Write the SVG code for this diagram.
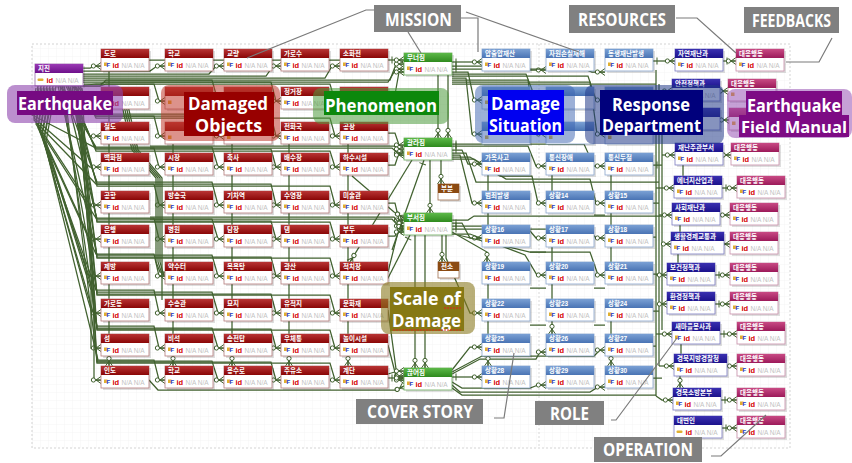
<svg xmlns="http://www.w3.org/2000/svg" xmlns:xlink="http://www.w3.org/1999/xlink" width="852" height="463" viewBox="0 0 852 463">
<style>
.c{fill:none;stroke:#41612f;stroke-width:1.25}
.e{marker-end:url(#cf)}
.s{marker-start:url(#br)}
.sh{fill:#000;opacity:.13}
.bd{fill:#fff;stroke-width:.8}
.hn{font:bold 6.5px "Liberation Sans","Noto Sans CJK KR",sans-serif;fill:#fff}
.idt{font:bold 7.5px "Liberation Sans",sans-serif;fill:#d40000}
.na{font:6.5px "Liberation Sans",sans-serif;fill:#c2c2c2}
.fi{font:bold 6px "Liberation Sans",sans-serif;fill:#1a3acc}
.r .hd{fill:url(#gr)} .r .bd{stroke:#b47c7c}
.g .hd{fill:url(#gg)} .g .bd{stroke:#6aaa5a}
.b .hd{fill:url(#gb)} .b .bd{stroke:#8aa6cc}
.i .hd{fill:url(#gi)} .i .bd{stroke:#7c7cc0}
.m .hd{fill:url(#gm)} .m .bd{stroke:#c890aa}
.p .hd{fill:url(#gp)} .p .bd{stroke:#9a6aaa}
.w .hd{fill:#8b4a12} .w .bd{stroke:#a07050}
.ov{font:bold 18px "Open Sans","Liberation Sans",sans-serif;fill:#fff}
.gl{fill:#808080}
.gt{font:bold 17px "Open Sans","Liberation Sans",sans-serif;fill:#fff}
.ld{fill:none;stroke:#7a7a7a;stroke-width:1.2}
</style>
<defs>
<pattern id="grid" width="8" height="8" patternUnits="userSpaceOnUse"><path d="M8,0H0V8" fill="none" stroke="#ececec" stroke-width=".6"/></pattern>
<linearGradient id="gr" x1="0" y1="0" x2="0" y2="1"><stop offset="0" stop-color="#b83434"/><stop offset="1" stop-color="#8a0606"/></linearGradient>
<linearGradient id="gg" x1="0" y1="0" x2="0" y2="1"><stop offset="0" stop-color="#5cb848"/><stop offset="1" stop-color="#2f8a1e"/></linearGradient>
<linearGradient id="gb" x1="0" y1="0" x2="0" y2="1"><stop offset="0" stop-color="#7aa0d4"/><stop offset="1" stop-color="#4a74b4"/></linearGradient>
<linearGradient id="gi" x1="0" y1="0" x2="0" y2="1"><stop offset="0" stop-color="#3a30b0"/><stop offset="1" stop-color="#1c128c"/></linearGradient>
<linearGradient id="gm" x1="0" y1="0" x2="0" y2="1"><stop offset="0" stop-color="#c84a84"/><stop offset="1" stop-color="#9c1a5a"/></linearGradient>
<linearGradient id="gp" x1="0" y1="0" x2="0" y2="1"><stop offset="0" stop-color="#9a3ab4"/><stop offset="1" stop-color="#6e108a"/></linearGradient>
<marker id="cf" markerUnits="userSpaceOnUse" viewBox="-11 -5 12 10" refX="0" refY="0" markerWidth="12" markerHeight="10" orient="auto" overflow="visible">
<path d="M-5,0L0,-3.5M-5,0L0,0M-5,0L0,3.5" fill="none" stroke="#41612f" stroke-width="1"/>
<circle cx="-7.6" cy="0" r="2.1" fill="#fff" stroke="#41612f" stroke-width="1"/>
</marker>
<marker id="br" markerUnits="userSpaceOnUse" viewBox="-1 -5 10 10" refX="0" refY="0" markerWidth="10" markerHeight="10" orient="auto" overflow="visible">
<path d="M4,-3.5V3.5" fill="none" stroke="#41612f" stroke-width="1"/>
</marker>
<g id="bf"><rect x="3" y="13.5" width="3.5" height="3.5" fill="#e0b030"/><text class="fi" x="5.5" y="17.5">F</text><text class="idt" x="11.5" y="19">id</text><text class="na" x="20.5" y="19">N/A N/A</text></g>
<g id="bk"><rect x="2.5" y="14.5" width="6" height="2.5" rx="1" fill="#e0b030"/><text class="idt" x="11.5" y="19">id</text><text class="na" x="20.5" y="19">N/A N/A</text></g>
<g id="bh"><rect x="3" y="13.5" width="3.5" height="3.5" fill="#e0b030"/></g>
</defs>

<rect width="852" height="463" fill="#fff"/>
<rect x="32" y="44" width="758" height="404" fill="url(#grid)" stroke="#c8c8c8" stroke-width=".8" stroke-dasharray="2,2"/>
<path d="M539,44V448" stroke="#cfcfcf" stroke-width=".8" stroke-dasharray="2,2"/>

<g id="connectors">
<path class="c e" d="M83,68H90L95,66H101"/>
<path class="c e" d="M83,71H150L157,66H165"/>
<path class="c e" d="M83,74H209L216,66H224"/>
<path class="c e" d="M83,76H266L273,66H281"/>
<path class="c e" d="M83,78H325L332,66H340"/>
<path class="c e" d="M83,80H390L396,64H404"/>
<path class="c e" d="M83,82H388L396,69H404"/>
<path class="c" d="M149,60H165M213,60H224M272,60H281M329,60H340"/>
<path class="c s e" d="M388,60H404"/>
<path class="c e" d="M72,86L88,101H101"/>
<path class="c e" d="M68,86L90,136H101"/>
<path class="c e" d="M38,86L34,118L90,167H101"/>
<path class="c e" d="M41,86L36,122L90,205H101"/>
<path class="c e" d="M44,86L38,126L90,239H101"/>
<path class="c e" d="M47,86L40,130L89,276H101"/>
<path class="c e" d="M50,86L42,134L88,300L92,313H101"/>
<path class="c e" d="M53,86L44,138L91,290V348H101"/>
<path class="c e" d="M56,86L46,142L94,295V380H101"/>
<path class="c e" d="M78,86L96,84H154L159,101H165"/>
<path class="c e" d="M75,86L96,116H154L159,136H165"/>
<path class="c e" d="M36,88L32,115L96,148H154L159,167H165"/>
<path class="c e" d="M39,88L34,120L96,184H154L159,205H165"/>
<path class="c e" d="M42,88L36,124L96,218H154L159,239H165"/>
<path class="c e" d="M45,88L38,128L96,254H154L159,276H165"/>
<path class="c e" d="M48,88L40,132L96,290H154L159,313H165"/>
<path class="c e" d="M51,88L42,136L97,326H154L159,348H165"/>
<path class="c e" d="M54,88L44,140L98,360H154L159,380H165"/>
<path class="c e" d="M80,86H100L106,80H212L218,101H224"/>
<path class="c e" d="M74,86L96,114H212L218,136H224"/>
<path class="c e" d="M60,86L96,147H212L218,167H224"/>
<path class="c e" d="M62,86L97,182H212L218,205H224"/>
<path class="c e" d="M64,86L97,219H212L218,239H224"/>
<path class="c e" d="M58,86L97,255H212L218,276H224"/>
<path class="c e" d="M60,86L97,292H212L218,313H224"/>
<path class="c e" d="M62,86L97,328H212L218,348H224"/>
<path class="c e" d="M64,86L97,361H212L218,380H224"/>
<path class="c e" d="M84,84H100L106,82H271L276,101H281"/>
<path class="c e" d="M78,86L96,116H271L276,136H281"/>
<path class="c e" d="M66,86L96,149H271L276,167H281"/>
<path class="c e" d="M68,86L97,184H271L276,205H281"/>
<path class="c e" d="M70,86L97,221H271L276,239H281"/>
<path class="c e" d="M72,86L97,257H271L276,276H281"/>
<path class="c e" d="M74,86L97,294H271L276,313H281"/>
<path class="c e" d="M76,86L97,329H271L276,348H281"/>
<path class="c e" d="M78,86L97,362H271L276,380H281"/>
<path class="c e" d="M83,86H100L106,84H330L335,101H340"/>
<path class="c e" d="M80,86L96,118H330L335,136H340"/>
<path class="c e" d="M70,88L96,151H330L335,167H340"/>
<path class="c e" d="M72,88L97,186H330L335,205H340"/>
<path class="c e" d="M74,88L97,222H330L335,239H340"/>
<path class="c e" d="M76,88L97,258H330L335,276H340"/>
<path class="c e" d="M78,88L97,295H330L335,313H340"/>
<path class="c e" d="M80,88L97,330H330L335,348H340"/>
<path class="c e" d="M82,88L97,363H330L335,380H340"/>
<path class="c" d="M118,88L132,150L156,178V262L160,272H165"/>
<path class="c" d="M120,88L134,150L158,178V262L162,274H165"/>
<path class="c" d="M122,88L136,150L160,178V262L164,276H165"/>
<path class="c" d="M124,88L138,150L162,178V300"/>
<path class="c e" d="M109,71V87M109,109V122M109,144V153M109,175V191M109,213V225M109,247V262M109,284V299M109,321V334M109,356V366"/>
<path class="c e" d="M173,144V153M173,175V191M173,213V225M173,247V262M173,284V299M173,321V334M173,356V366"/>
<path class="c e" d="M232,144V153M232,175V191M232,213V225M232,247V262M232,284V299M232,321V334M232,356V366"/>
<path class="c e" d="M289,144V153M289,175V191M289,213V225M289,247V262M289,284V299M289,321V334M289,356V366"/>
<path class="c e" d="M348,144V153M348,175V191M348,213V225M348,247V262M348,284V299M348,321V334M348,356V366"/>
<path class="c e" d="M388,100H394L399,72H404"/>
<path class="c e" d="M388,133H395L399,145H404"/>
<path class="c e" d="M388,165H395L399,153H404"/>
<path class="c e" d="M388,203H395L399,220H404"/>
<path class="c e" d="M388,236H395L399,226H404"/>
<path class="c e" d="M388,272L398,232H404"/>
<path class="c e" d="M388,310L397,376H404"/>
<path class="c e" d="M388,345L397,380H404"/>
<path class="c s e" d="M388,378H404"/>
<path class="c e" d="M150,146H394L400,149H404"/>
<path class="c e" d="M150,148H392L400,155H404"/>
<path class="c e" d="M150,217H394L404,229"/>
<path class="c e" d="M150,219H392L404,232"/>
<path class="c e" d="M388,374L398,371H404"/>
<path class="c e" d="M149,380L158,390H396L404,386"/>
<path class="c e" d="M352,176L394,212L404,218"/>
<path class="c s" d="M424,160L392,250"/>
<path class="c e" d="M412,160L350,262"/>
<path class="c e" d="M415,235V368"/>
<path class="c e" d="M425,235V368"/>
<path class="c s" d="M410,235L386,282"/>
<path class="c e" d="M446,235V258L470,313H482"/>
<path class="c e" d="M438,75V138"/>
<path class="c e" d="M448,75V138"/>
<path class="c e" d="M441,160V184"/>
<path class="c e" d="M430,160V213"/>
<path class="c e" d="M442,235V262"/>
<path class="c s e" d="M452,62H482"/>
<path class="c s e" d="M452,66H522L530,70H546"/>
<path class="c s e" d="M452,69H584L592,72H605"/>
<path class="c e" d="M452,72H468L474,100H482"/>
<path class="c e" d="M452,74H526L536,100H546"/>
<path class="c e" d="M452,76H588L596,100H605"/>
<path class="c e" d="M452,78H466L472,134H482"/>
<path class="c e" d="M452,80H528L536,134H546"/>
<path class="c e" d="M452,82H590L597,134H605"/>
<path class="c" d="M452,84H656"/>
<path class="c s e" d="M452,144H584L594,166H605"/>
<path class="c s e" d="M452,146H528L536,166H546"/>
<path class="c s e" d="M452,150H462L468,164H482"/>
<path class="c e" d="M452,155H460L472,203H482"/>
<path class="c e" d="M452,157H470L500,176H532L538,203H546"/>
<path class="c e" d="M452,159H474L506,179H590L596,203H605"/>
<path class="c" d="M452,153H466L476,182H659"/>
<path class="c s e" d="M452,223H462L470,238H482"/>
<path class="c s e" d="M452,226H526L536,238H546"/>
<path class="c s e" d="M452,229H588L596,238H605"/>
<path class="c e" d="M452,232L487,252V262"/>
<path class="c e" d="M452,234H470L525,255L537,275H546"/>
<path class="c e" d="M458,235L530,252H590L598,275H605"/>
<path class="c" d="M452,220H468L474,216H662"/>
<path class="c s e" d="M452,377H482"/>
<path class="c e" d="M452,382L462,388H530L538,385H546"/>
<path class="c e" d="M452,385L460,392H590L598,387H605"/>
<path class="c e" d="M452,374L480,359H536L540,352H546"/>
<path class="c e" d="M452,372L482,356H594L600,350H605"/>
<path class="c e" d="M452,370L470,347H482"/>
<path class="c" d="M452,388L462,395H656"/>
<path class="c e" d="M488,175V191M488,213V225M488,284V299M488,321V334M488,356V366"/>
<path class="c e" d="M552,175V191M552,247V262M552,284V299M552,321V334"/>
<path class="c e" d="M611,175V191M611,213V225M611,247V262M611,321V334M611,356V366"/>
<path class="c" d="M530,252H546M530,288H546M594,288H605M530,325H546M594,325H605M594,215H605"/>
<path class="c s" d="M653,165H662M653,203H659M653,237H656M653,274H662M653,311H659M653,346H656M653,378H662"/>
<path class="c" d="M656,70V396M659,84V366M662,96V330"/>
<path class="c s e" d="M653,61H675"/>
<path class="c e" d="M659,91H672"/>
<path class="c e" d="M656,120H672"/>
<path class="c e" d="M662,155H675"/>
<path class="c e" d="M656,188H674"/>
<path class="c e" d="M659,215H672"/>
<path class="c e" d="M662,244H671"/>
<path class="c e" d="M656,275H667"/>
<path class="c e" d="M659,304H667"/>
<path class="c e" d="M656,334H672"/>
<path class="c e" d="M659,366H674"/>
<path class="c e" d="M656,396L662,400H673"/>
<path class="c e" d="M683,165V176M680,225V232M678,254V263M681,344V354M680,376V388"/>
<path class="c s e" d="M723,61H736"/>
<path class="c e" d="M720,91H728"/>
<path class="c e" d="M720,120H729"/>
<path class="c e" d="M723,155H731"/>
<path class="c s e" d="M722,188H737"/>
<path class="c e" d="M720,215H730"/>
<path class="c e" d="M724,244H730"/>
<path class="c s e" d="M715,275H730"/>
<path class="c s e" d="M715,304H730"/>
<path class="c s e" d="M720,334H737"/>
<path class="c e" d="M727,366H737"/>
<path class="c s e" d="M721,400H737"/>
<path class="c s e" d="M722,428H737"/>
</g>

<g id="n-jijin" class="t p" transform="translate(35,64)"><rect class="sh" x="2" y="2" width="48" height="22"/><rect class="bd" width="48" height="22"/><rect class="hd" width="48" height="9"/><text class="hn" x="3" y="7">지진</text><use href="#bk"/></g>

<g id="n-doro" class="t r" transform="translate(101,49)"><rect class="sh" x="2" y="2" width="48" height="22"/><rect class="bd" width="48" height="22"/><rect class="hd" width="48" height="9"/><text class="hn" x="3" y="7">도로</text><use href="#bf"/></g>
<g id="n-c1r2" class="t r" transform="translate(101,87)"><rect class="sh" x="2" y="2" width="48" height="22"/><rect class="bd" width="48" height="22"/><rect class="hd" width="48" height="9"/><use href="#bf"/></g>
<g id="n-c1r3" class="t r" transform="translate(101,122)"><rect class="sh" x="2" y="2" width="48" height="22"/><rect class="bd" width="48" height="22"/><rect class="hd" width="48" height="9"/><text class="hn" x="3" y="7">철도</text><use href="#bf"/></g>
<g id="n-baekhwa" class="t r" transform="translate(101,153)"><rect class="sh" x="2" y="2" width="48" height="22"/><rect class="bd" width="48" height="22"/><rect class="hd" width="48" height="9"/><text class="hn" x="3" y="7">백화점</text><use href="#bf"/></g>
<g id="n-c1r5" class="t r" transform="translate(101,191)"><rect class="sh" x="2" y="2" width="48" height="22"/><rect class="bd" width="48" height="22"/><rect class="hd" width="48" height="9"/><text class="hn" x="3" y="7">공항</text><use href="#bf"/></g>
<g id="n-eunhaeng" class="t r" transform="translate(101,225)"><rect class="sh" x="2" y="2" width="48" height="22"/><rect class="bd" width="48" height="22"/><rect class="hd" width="48" height="9"/><text class="hn" x="3" y="7">은행</text><use href="#bf"/></g>
<g id="n-jebang" class="t r" transform="translate(101,262)"><rect class="sh" x="2" y="2" width="48" height="22"/><rect class="bd" width="48" height="22"/><rect class="hd" width="48" height="9"/><text class="hn" x="3" y="7">제방</text><use href="#bf"/></g>
<g id="n-garodeung" class="t r" transform="translate(101,299)"><rect class="sh" x="2" y="2" width="48" height="22"/><rect class="bd" width="48" height="22"/><rect class="hd" width="48" height="9"/><text class="hn" x="3" y="7">가로등</text><use href="#bf"/></g>
<g id="n-seom" class="t r" transform="translate(101,334)"><rect class="sh" x="2" y="2" width="48" height="22"/><rect class="bd" width="48" height="22"/><rect class="hd" width="48" height="9"/><text class="hn" x="3" y="7">섬</text><use href="#bf"/></g>
<g id="n-indo" class="t r" transform="translate(101,366)"><rect class="sh" x="2" y="2" width="48" height="22"/><rect class="bd" width="48" height="22"/><rect class="hd" width="48" height="9"/><text class="hn" x="3" y="7">인도</text><use href="#bf"/></g>
<g id="n-hakgyo1" class="t r" transform="translate(165,49)"><rect class="sh" x="2" y="2" width="48" height="22"/><rect class="bd" width="48" height="22"/><rect class="hd" width="48" height="9"/><text class="hn" x="3" y="7">학교</text><use href="#bf"/></g>
<g id="n-c2r2" class="t r" transform="translate(165,87)"><rect class="sh" x="2" y="2" width="48" height="22"/><rect class="bd" width="48" height="22"/><rect class="hd" width="48" height="9"/><use href="#bh"/></g>
<g id="n-c2r3" class="t r" transform="translate(165,122)"><rect class="sh" x="2" y="2" width="48" height="22"/><rect class="bd" width="48" height="22"/><rect class="hd" width="48" height="9"/><use href="#bh"/></g>
<g id="n-sijang" class="t r" transform="translate(165,153)"><rect class="sh" x="2" y="2" width="48" height="22"/><rect class="bd" width="48" height="22"/><rect class="hd" width="48" height="9"/><text class="hn" x="3" y="7">시장</text><use href="#bf"/></g>
<g id="n-bangsong" class="t r" transform="translate(165,191)"><rect class="sh" x="2" y="2" width="48" height="22"/><rect class="bd" width="48" height="22"/><rect class="hd" width="48" height="9"/><text class="hn" x="3" y="7">방송국</text><use href="#bf"/></g>
<g id="n-byeongwon" class="t r" transform="translate(165,225)"><rect class="sh" x="2" y="2" width="48" height="22"/><rect class="bd" width="48" height="22"/><rect class="hd" width="48" height="9"/><text class="hn" x="3" y="7">병원</text><use href="#bf"/></g>
<g id="n-yaksuteo" class="t r" transform="translate(165,262)"><rect class="sh" x="2" y="2" width="48" height="22"/><rect class="bd" width="48" height="22"/><rect class="hd" width="48" height="9"/><text class="hn" x="3" y="7">약수터</text><use href="#bf"/></g>
<g id="n-susong" class="t r" transform="translate(165,299)"><rect class="sh" x="2" y="2" width="48" height="22"/><rect class="bd" width="48" height="22"/><rect class="hd" width="48" height="9"/><text class="hn" x="3" y="7">수송관</text><use href="#bf"/></g>
<g id="n-biseok" class="t r" transform="translate(165,334)"><rect class="sh" x="2" y="2" width="48" height="22"/><rect class="bd" width="48" height="22"/><rect class="hd" width="48" height="9"/><text class="hn" x="3" y="7">비석</text><use href="#bf"/></g>
<g id="n-hakgyo2" class="t r" transform="translate(165,366)"><rect class="sh" x="2" y="2" width="48" height="22"/><rect class="bd" width="48" height="22"/><rect class="hd" width="48" height="9"/><text class="hn" x="3" y="7">학교</text><use href="#bf"/></g>
<g id="n-gyoryang" class="t r" transform="translate(224,49)"><rect class="sh" x="2" y="2" width="48" height="22"/><rect class="bd" width="48" height="22"/><rect class="hd" width="48" height="9"/><text class="hn" x="3" y="7">교량</text><use href="#bf"/></g>
<g id="n-c3r2" class="t r" transform="translate(224,87)"><rect class="sh" x="2" y="2" width="48" height="22"/><rect class="bd" width="48" height="22"/><rect class="hd" width="48" height="9"/><use href="#bh"/></g>
<g id="n-c3r3" class="t r" transform="translate(224,122)"><rect class="sh" x="2" y="2" width="48" height="22"/><rect class="bd" width="48" height="22"/><rect class="hd" width="48" height="9"/><use href="#bh"/></g>
<g id="n-chuksa" class="t r" transform="translate(224,153)"><rect class="sh" x="2" y="2" width="48" height="22"/><rect class="bd" width="48" height="22"/><rect class="hd" width="48" height="9"/><text class="hn" x="3" y="7">축사</text><use href="#bf"/></g>
<g id="n-gicha" class="t r" transform="translate(224,191)"><rect class="sh" x="2" y="2" width="48" height="22"/><rect class="bd" width="48" height="22"/><rect class="hd" width="48" height="9"/><text class="hn" x="3" y="7">기차역</text><use href="#bf"/></g>
<g id="n-damjang" class="t r" transform="translate(224,225)"><rect class="sh" x="2" y="2" width="48" height="22"/><rect class="bd" width="48" height="22"/><rect class="hd" width="48" height="9"/><text class="hn" x="3" y="7">담장</text><use href="#bf"/></g>
<g id="n-mogyok" class="t r" transform="translate(224,262)"><rect class="sh" x="2" y="2" width="48" height="22"/><rect class="bd" width="48" height="22"/><rect class="hd" width="48" height="9"/><text class="hn" x="3" y="7">목욕탕</text><use href="#bf"/></g>
<g id="n-myoji" class="t r" transform="translate(224,299)"><rect class="sh" x="2" y="2" width="48" height="22"/><rect class="bd" width="48" height="22"/><rect class="hd" width="48" height="9"/><text class="hn" x="3" y="7">묘지</text><use href="#bf"/></g>
<g id="n-songjeon" class="t r" transform="translate(224,334)"><rect class="sh" x="2" y="2" width="48" height="22"/><rect class="bd" width="48" height="22"/><rect class="hd" width="48" height="9"/><text class="hn" x="3" y="7">송전탑</text><use href="#bf"/></g>
<g id="n-yongsu" class="t r" transform="translate(224,366)"><rect class="sh" x="2" y="2" width="48" height="22"/><rect class="bd" width="48" height="22"/><rect class="hd" width="48" height="9"/><text class="hn" x="3" y="7">용수로</text><use href="#bf"/></g>
<g id="n-garosu" class="t r" transform="translate(281,49)"><rect class="sh" x="2" y="2" width="48" height="22"/><rect class="bd" width="48" height="22"/><rect class="hd" width="48" height="9"/><text class="hn" x="3" y="7">가로수</text><use href="#bf"/></g>
<g id="n-jeonggeo" class="t r" transform="translate(281,87)"><rect class="sh" x="2" y="2" width="48" height="22"/><rect class="bd" width="48" height="22"/><rect class="hd" width="48" height="9"/><text class="hn" x="3" y="7">정거장</text><use href="#bf"/></g>
<g id="n-jeonhwa" class="t r" transform="translate(281,122)"><rect class="sh" x="2" y="2" width="48" height="22"/><rect class="bd" width="48" height="22"/><rect class="hd" width="48" height="9"/><text class="hn" x="3" y="7">전화국</text><use href="#bf"/></g>
<g id="n-baesu" class="t r" transform="translate(281,153)"><rect class="sh" x="2" y="2" width="48" height="22"/><rect class="bd" width="48" height="22"/><rect class="hd" width="48" height="9"/><text class="hn" x="3" y="7">배수장</text><use href="#bf"/></g>
<g id="n-suyeong" class="t r" transform="translate(281,191)"><rect class="sh" x="2" y="2" width="48" height="22"/><rect class="bd" width="48" height="22"/><rect class="hd" width="48" height="9"/><text class="hn" x="3" y="7">수영장</text><use href="#bf"/></g>
<g id="n-dam" class="t r" transform="translate(281,225)"><rect class="sh" x="2" y="2" width="48" height="22"/><rect class="bd" width="48" height="22"/><rect class="hd" width="48" height="9"/><text class="hn" x="3" y="7">댐</text><use href="#bf"/></g>
<g id="n-gwangsan" class="t r" transform="translate(281,262)"><rect class="sh" x="2" y="2" width="48" height="22"/><rect class="bd" width="48" height="22"/><rect class="hd" width="48" height="9"/><text class="hn" x="3" y="7">광산</text><use href="#bf"/></g>
<g id="n-yujeok" class="t r" transform="translate(281,299)"><rect class="sh" x="2" y="2" width="48" height="22"/><rect class="bd" width="48" height="22"/><rect class="hd" width="48" height="9"/><text class="hn" x="3" y="7">유적지</text><use href="#bf"/></g>
<g id="n-uche" class="t r" transform="translate(281,334)"><rect class="sh" x="2" y="2" width="48" height="22"/><rect class="bd" width="48" height="22"/><rect class="hd" width="48" height="9"/><text class="hn" x="3" y="7">우체통</text><use href="#bf"/></g>
<g id="n-juyu" class="t r" transform="translate(281,366)"><rect class="sh" x="2" y="2" width="48" height="22"/><rect class="bd" width="48" height="22"/><rect class="hd" width="48" height="9"/><text class="hn" x="3" y="7">주유소</text><use href="#bf"/></g>
<g id="n-sohwa" class="t r" transform="translate(340,49)"><rect class="sh" x="2" y="2" width="48" height="22"/><rect class="bd" width="48" height="22"/><rect class="hd" width="48" height="9"/><text class="hn" x="3" y="7">소화전</text><use href="#bf"/></g>
<g id="n-c5r2" class="t r" transform="translate(340,87)"><rect class="sh" x="2" y="2" width="48" height="22"/><rect class="bd" width="48" height="22"/><rect class="hd" width="48" height="9"/><use href="#bh"/></g>
<g id="n-gongjang" class="t r" transform="translate(340,122)"><rect class="sh" x="2" y="2" width="48" height="22"/><rect class="bd" width="48" height="22"/><rect class="hd" width="48" height="9"/><text class="hn" x="3" y="7">공장</text><use href="#bf"/></g>
<g id="n-hasu" class="t r" transform="translate(340,153)"><rect class="sh" x="2" y="2" width="48" height="22"/><rect class="bd" width="48" height="22"/><rect class="hd" width="48" height="9"/><text class="hn" x="3" y="7">하수시설</text><use href="#bf"/></g>
<g id="n-misul" class="t r" transform="translate(340,191)"><rect class="sh" x="2" y="2" width="48" height="22"/><rect class="bd" width="48" height="22"/><rect class="hd" width="48" height="9"/><text class="hn" x="3" y="7">미술관</text><use href="#bf"/></g>
<g id="n-budu" class="t r" transform="translate(340,225)"><rect class="sh" x="2" y="2" width="48" height="22"/><rect class="bd" width="48" height="22"/><rect class="hd" width="48" height="9"/><text class="hn" x="3" y="7">부두</text><use href="#bf"/></g>
<g id="n-c5r7" class="t r" transform="translate(340,262)"><rect class="sh" x="2" y="2" width="48" height="22"/><rect class="bd" width="48" height="22"/><rect class="hd" width="48" height="9"/><text class="hn" x="3" y="7">적치장</text><use href="#bf"/></g>
<g id="n-munhwa" class="t r" transform="translate(340,299)"><rect class="sh" x="2" y="2" width="48" height="22"/><rect class="bd" width="48" height="22"/><rect class="hd" width="48" height="9"/><text class="hn" x="3" y="7">문화재</text><use href="#bf"/></g>
<g id="n-nori" class="t r" transform="translate(340,334)"><rect class="sh" x="2" y="2" width="48" height="22"/><rect class="bd" width="48" height="22"/><rect class="hd" width="48" height="9"/><text class="hn" x="3" y="7">놀이시설</text><use href="#bf"/></g>
<g id="n-gyedan" class="t r" transform="translate(340,366)"><rect class="sh" x="2" y="2" width="48" height="22"/><rect class="bd" width="48" height="22"/><rect class="hd" width="48" height="9"/><text class="hn" x="3" y="7">계단</text><use href="#bf"/></g>

<g id="n-muneojim" class="t g" transform="translate(404,53)"><rect class="sh" x="2" y="2" width="48" height="22"/><rect class="bd" width="48" height="22"/><rect class="hd" width="48" height="9"/><text class="hn" x="3" y="7">무너짐</text><use href="#bf"/></g>
<g id="n-g2" class="t g" transform="translate(404,138)"><rect class="sh" x="2" y="2" width="48" height="22"/><rect class="bd" width="48" height="22"/><rect class="hd" width="48" height="9"/><text class="hn" x="3" y="7">갈라짐</text><use href="#bf"/></g>
<g id="n-g3" class="t g" transform="translate(404,213)"><rect class="sh" x="2" y="2" width="48" height="22"/><rect class="bd" width="48" height="22"/><rect class="hd" width="48" height="9"/><text class="hn" x="3" y="7">부서짐</text><use href="#bf"/></g>
<g id="n-g4" class="t g" transform="translate(404,368)"><rect class="sh" x="2" y="2" width="48" height="22"/><rect class="bd" width="48" height="22"/><rect class="hd" width="48" height="9"/><text class="hn" x="3" y="7">끊어짐</text><use href="#bf"/></g>
<g id="n-bubun" class="t w" transform="translate(438,184)"><rect class="sh" x="2" y="2" width="21" height="16"/><rect class="bd" width="21" height="16"/><rect class="hd" width="21" height="9"/><text class="hn" x="3" y="7">부분</text></g>
<g id="n-jeonso" class="t w" transform="translate(438,262)"><rect class="sh" x="2" y="2" width="21" height="16"/><rect class="bd" width="21" height="16"/><rect class="hd" width="21" height="9"/><text class="hn" x="3" y="7">전소</text></g>

<g id="n-c7r1" class="t b" transform="translate(482,49)"><rect class="sh" x="2" y="2" width="48" height="22"/><rect class="bd" width="48" height="22"/><rect class="hd" width="48" height="9"/><text class="hn" x="3" y="7">압출압재산</text><use href="#bf"/></g>
<g id="n-c7r2" class="t b" transform="translate(482,87)"><rect class="sh" x="2" y="2" width="48" height="22"/><rect class="bd" width="48" height="22"/><rect class="hd" width="48" height="9"/><use href="#bh"/></g>
<g id="n-c7r3" class="t b" transform="translate(482,122)"><rect class="sh" x="2" y="2" width="48" height="22"/><rect class="bd" width="48" height="22"/><rect class="hd" width="48" height="9"/><use href="#bh"/></g>
<g id="n-gaok" class="t b" transform="translate(482,153)"><rect class="sh" x="2" y="2" width="48" height="22"/><rect class="bd" width="48" height="22"/><rect class="hd" width="48" height="9"/><text class="hn" x="3" y="7">가옥사고</text><use href="#bf"/></g>
<g id="n-beomjoe" class="t b" transform="translate(482,191)"><rect class="sh" x="2" y="2" width="48" height="22"/><rect class="bd" width="48" height="22"/><rect class="hd" width="48" height="9"/><text class="hn" x="3" y="7">범죄발생</text><use href="#bf"/></g>
<g id="n-s16" class="t b" transform="translate(482,225)"><rect class="sh" x="2" y="2" width="48" height="22"/><rect class="bd" width="48" height="22"/><rect class="hd" width="48" height="9"/><text class="hn" x="3" y="7">상황16</text><use href="#bf"/></g>
<g id="n-s19" class="t b" transform="translate(482,262)"><rect class="sh" x="2" y="2" width="48" height="22"/><rect class="bd" width="48" height="22"/><rect class="hd" width="48" height="9"/><text class="hn" x="3" y="7">상황19</text><use href="#bf"/></g>
<g id="n-s22" class="t b" transform="translate(482,299)"><rect class="sh" x="2" y="2" width="48" height="22"/><rect class="bd" width="48" height="22"/><rect class="hd" width="48" height="9"/><text class="hn" x="3" y="7">상황22</text><use href="#bf"/></g>
<g id="n-s25" class="t b" transform="translate(482,334)"><rect class="sh" x="2" y="2" width="48" height="22"/><rect class="bd" width="48" height="22"/><rect class="hd" width="48" height="9"/><text class="hn" x="3" y="7">상황25</text><use href="#bf"/></g>
<g id="n-s28" class="t b" transform="translate(482,366)"><rect class="sh" x="2" y="2" width="48" height="22"/><rect class="bd" width="48" height="22"/><rect class="hd" width="48" height="9"/><text class="hn" x="3" y="7">상황28</text><use href="#bf"/></g>
<g id="n-c8r1" class="t b" transform="translate(546,49)"><rect class="sh" x="2" y="2" width="48" height="22"/><rect class="bd" width="48" height="22"/><rect class="hd" width="48" height="9"/><text class="hn" x="3" y="7">자원손실재해</text><use href="#bf"/></g>
<g id="n-c8r2" class="t b" transform="translate(546,87)"><rect class="sh" x="2" y="2" width="48" height="22"/><rect class="bd" width="48" height="22"/><rect class="hd" width="48" height="9"/><use href="#bh"/></g>
<g id="n-c8r3" class="t b" transform="translate(546,122)"><rect class="sh" x="2" y="2" width="48" height="22"/><rect class="bd" width="48" height="22"/><rect class="hd" width="48" height="9"/><use href="#bh"/></g>
<g id="n-tongsin1" class="t b" transform="translate(546,153)"><rect class="sh" x="2" y="2" width="48" height="22"/><rect class="bd" width="48" height="22"/><rect class="hd" width="48" height="9"/><text class="hn" x="3" y="7">통신장애</text><use href="#bf"/></g>
<g id="n-s14" class="t b" transform="translate(546,191)"><rect class="sh" x="2" y="2" width="48" height="22"/><rect class="bd" width="48" height="22"/><rect class="hd" width="48" height="9"/><text class="hn" x="3" y="7">상황14</text><use href="#bf"/></g>
<g id="n-s17" class="t b" transform="translate(546,225)"><rect class="sh" x="2" y="2" width="48" height="22"/><rect class="bd" width="48" height="22"/><rect class="hd" width="48" height="9"/><text class="hn" x="3" y="7">상황17</text><use href="#bf"/></g>
<g id="n-s20" class="t b" transform="translate(546,262)"><rect class="sh" x="2" y="2" width="48" height="22"/><rect class="bd" width="48" height="22"/><rect class="hd" width="48" height="9"/><text class="hn" x="3" y="7">상황20</text><use href="#bf"/></g>
<g id="n-s23" class="t b" transform="translate(546,299)"><rect class="sh" x="2" y="2" width="48" height="22"/><rect class="bd" width="48" height="22"/><rect class="hd" width="48" height="9"/><text class="hn" x="3" y="7">상황23</text><use href="#bf"/></g>
<g id="n-s26" class="t b" transform="translate(546,334)"><rect class="sh" x="2" y="2" width="48" height="22"/><rect class="bd" width="48" height="22"/><rect class="hd" width="48" height="9"/><text class="hn" x="3" y="7">상황26</text><use href="#bf"/></g>
<g id="n-s29" class="t b" transform="translate(546,366)"><rect class="sh" x="2" y="2" width="48" height="22"/><rect class="bd" width="48" height="22"/><rect class="hd" width="48" height="9"/><text class="hn" x="3" y="7">상황29</text><use href="#bf"/></g>
<g id="n-c9r1" class="t b" transform="translate(605,49)"><rect class="sh" x="2" y="2" width="48" height="22"/><rect class="bd" width="48" height="22"/><rect class="hd" width="48" height="9"/><text class="hn" x="3" y="7">동생재난발생</text><use href="#bf"/></g>
<g id="n-c9r2" class="t b" transform="translate(605,87)"><rect class="sh" x="2" y="2" width="48" height="22"/><rect class="bd" width="48" height="22"/><rect class="hd" width="48" height="9"/><use href="#bh"/></g>
<g id="n-c9r3" class="t b" transform="translate(605,122)"><rect class="sh" x="2" y="2" width="48" height="22"/><rect class="bd" width="48" height="22"/><rect class="hd" width="48" height="9"/><use href="#bh"/></g>
<g id="n-tongsin2" class="t b" transform="translate(605,153)"><rect class="sh" x="2" y="2" width="48" height="22"/><rect class="bd" width="48" height="22"/><rect class="hd" width="48" height="9"/><text class="hn" x="3" y="7">통신두절</text><use href="#bf"/></g>
<g id="n-s15" class="t b" transform="translate(605,191)"><rect class="sh" x="2" y="2" width="48" height="22"/><rect class="bd" width="48" height="22"/><rect class="hd" width="48" height="9"/><text class="hn" x="3" y="7">상황15</text><use href="#bf"/></g>
<g id="n-s18" class="t b" transform="translate(605,225)"><rect class="sh" x="2" y="2" width="48" height="22"/><rect class="bd" width="48" height="22"/><rect class="hd" width="48" height="9"/><text class="hn" x="3" y="7">상황18</text><use href="#bf"/></g>
<g id="n-s21" class="t b" transform="translate(605,262)"><rect class="sh" x="2" y="2" width="48" height="22"/><rect class="bd" width="48" height="22"/><rect class="hd" width="48" height="9"/><text class="hn" x="3" y="7">상황21</text><use href="#bf"/></g>
<g id="n-s24" class="t b" transform="translate(605,299)"><rect class="sh" x="2" y="2" width="48" height="22"/><rect class="bd" width="48" height="22"/><rect class="hd" width="48" height="9"/><text class="hn" x="3" y="7">상황24</text><use href="#bf"/></g>
<g id="n-s27" class="t b" transform="translate(605,334)"><rect class="sh" x="2" y="2" width="48" height="22"/><rect class="bd" width="48" height="22"/><rect class="hd" width="48" height="9"/><text class="hn" x="3" y="7">상황27</text><use href="#bf"/></g>
<g id="n-s30" class="t b" transform="translate(605,366)"><rect class="sh" x="2" y="2" width="48" height="22"/><rect class="bd" width="48" height="22"/><rect class="hd" width="48" height="9"/><text class="hn" x="3" y="7">상황30</text><use href="#bf"/></g>

<g id="n-i1" class="t i" transform="translate(675,49)"><rect class="sh" x="2" y="2" width="48" height="22"/><rect class="bd" width="48" height="22"/><rect class="hd" width="48" height="9"/><text class="hn" x="3" y="7">자연재난과</text><use href="#bf"/></g>
<g id="n-i2" class="t i" transform="translate(672,79)"><rect class="sh" x="2" y="2" width="48" height="22"/><rect class="bd" width="48" height="22"/><rect class="hd" width="48" height="9"/><text class="hn" x="3" y="7">안전정책과</text><use href="#bf"/></g>
<g id="n-i3" class="t i" transform="translate(672,108)"><rect class="sh" x="2" y="2" width="48" height="22"/><rect class="bd" width="48" height="22"/><rect class="hd" width="48" height="9"/><use href="#bh"/></g>
<g id="n-i4" class="t i" transform="translate(675,143)"><rect class="sh" x="2" y="2" width="48" height="22"/><rect class="bd" width="48" height="22"/><rect class="hd" width="48" height="9"/><text class="hn" x="3" y="7">재난주관부서</text><use href="#bf"/></g>
<g id="n-i5" class="t i" transform="translate(674,176)"><rect class="sh" x="2" y="2" width="48" height="22"/><rect class="bd" width="48" height="22"/><rect class="hd" width="48" height="9"/><text class="hn" x="3" y="7">에너지산업과</text><use href="#bf"/></g>
<g id="n-i6" class="t i" transform="translate(672,203)"><rect class="sh" x="2" y="2" width="48" height="22"/><rect class="bd" width="48" height="22"/><rect class="hd" width="48" height="9"/><text class="hn" x="3" y="7">사회재난과</text><use href="#bf"/></g>
<g id="n-i7" class="t i" transform="translate(671,232)"><rect class="sh" x="2" y="2" width="53" height="22"/><rect class="bd" width="53" height="22"/><rect class="hd" width="53" height="9"/><text class="hn" x="3" y="7">생활경제교통과</text><use href="#bf"/></g>
<g id="n-i8" class="t i" transform="translate(667,263)"><rect class="sh" x="2" y="2" width="48" height="22"/><rect class="bd" width="48" height="22"/><rect class="hd" width="48" height="9"/><text class="hn" x="3" y="7">보건정책과</text><use href="#bf"/></g>
<g id="n-i9" class="t i" transform="translate(667,292)"><rect class="sh" x="2" y="2" width="48" height="22"/><rect class="bd" width="48" height="22"/><rect class="hd" width="48" height="9"/><text class="hn" x="3" y="7">환경정책과</text><use href="#bf"/></g>
<g id="n-i10" class="t i" transform="translate(672,322)"><rect class="sh" x="2" y="2" width="48" height="22"/><rect class="bd" width="48" height="22"/><rect class="hd" width="48" height="9"/><text class="hn" x="3" y="7">새마을봉사과</text><use href="#bf"/></g>
<g id="n-i11" class="t i" transform="translate(674,354)"><rect class="sh" x="2" y="2" width="53" height="22"/><rect class="bd" width="53" height="22"/><rect class="hd" width="53" height="9"/><text class="hn" x="3" y="7">경북지방경찰청</text><use href="#bf"/></g>
<g id="n-i12" class="t i" transform="translate(673,388)"><rect class="sh" x="2" y="2" width="48" height="22"/><rect class="bd" width="48" height="22"/><rect class="hd" width="48" height="9"/><text class="hn" x="3" y="7">경북소방본부</text><use href="#bf"/></g>
<g id="n-i13" class="t i" transform="translate(674,416)"><rect class="sh" x="2" y="2" width="48" height="22"/><rect class="bd" width="48" height="22"/><rect class="hd" width="48" height="9"/><text class="hn" x="3" y="7">대변인</text><use href="#bk"/></g>

<g id="n-m1" class="t m" transform="translate(736,49)"><rect class="sh" x="2" y="2" width="48" height="22"/><rect class="bd" width="48" height="22"/><rect class="hd" width="48" height="9"/><text class="hn" x="3" y="7">대응행동</text><use href="#bf"/></g>
<g id="n-m2" class="t m" transform="translate(728,79)"><rect class="sh" x="2" y="2" width="48" height="22"/><rect class="bd" width="48" height="22"/><rect class="hd" width="48" height="9"/><text class="hn" x="3" y="7">대응행동</text><use href="#bh"/></g>
<g id="n-m3" class="t m" transform="translate(729,108)"><rect class="sh" x="2" y="2" width="48" height="22"/><rect class="bd" width="48" height="22"/><rect class="hd" width="48" height="9"/><use href="#bh"/></g>
<g id="n-m4" class="t m" transform="translate(731,143)"><rect class="sh" x="2" y="2" width="48" height="22"/><rect class="bd" width="48" height="22"/><rect class="hd" width="48" height="9"/><text class="hn" x="3" y="7">대응행동</text><use href="#bf"/></g>
<g id="n-m5" class="t m" transform="translate(737,176)"><rect class="sh" x="2" y="2" width="48" height="22"/><rect class="bd" width="48" height="22"/><rect class="hd" width="48" height="9"/><text class="hn" x="3" y="7">대응행동</text><use href="#bf"/></g>
<g id="n-m6" class="t m" transform="translate(730,203)"><rect class="sh" x="2" y="2" width="48" height="22"/><rect class="bd" width="48" height="22"/><rect class="hd" width="48" height="9"/><text class="hn" x="3" y="7">대응행동</text><use href="#bf"/></g>
<g id="n-m7" class="t m" transform="translate(730,232)"><rect class="sh" x="2" y="2" width="48" height="22"/><rect class="bd" width="48" height="22"/><rect class="hd" width="48" height="9"/><text class="hn" x="3" y="7">대응행동</text><use href="#bf"/></g>
<g id="n-m8" class="t m" transform="translate(730,263)"><rect class="sh" x="2" y="2" width="48" height="22"/><rect class="bd" width="48" height="22"/><rect class="hd" width="48" height="9"/><text class="hn" x="3" y="7">대응행동</text><use href="#bf"/></g>
<g id="n-m9" class="t m" transform="translate(730,292)"><rect class="sh" x="2" y="2" width="48" height="22"/><rect class="bd" width="48" height="22"/><rect class="hd" width="48" height="9"/><text class="hn" x="3" y="7">대응행동</text><use href="#bf"/></g>
<g id="n-m10" class="t m" transform="translate(737,322)"><rect class="sh" x="2" y="2" width="48" height="22"/><rect class="bd" width="48" height="22"/><rect class="hd" width="48" height="9"/><text class="hn" x="3" y="7">대응행동</text><use href="#bf"/></g>
<g id="n-m11" class="t m" transform="translate(737,354)"><rect class="sh" x="2" y="2" width="48" height="22"/><rect class="bd" width="48" height="22"/><rect class="hd" width="48" height="9"/><text class="hn" x="3" y="7">대응행동</text><use href="#bf"/></g>
<g id="n-m12" class="t m" transform="translate(737,388)"><rect class="sh" x="2" y="2" width="48" height="22"/><rect class="bd" width="48" height="22"/><rect class="hd" width="48" height="9"/><text class="hn" x="3" y="7">대응행동</text><use href="#bf"/></g>
<g id="n-m13" class="t m" transform="translate(737,416)"><rect class="sh" x="2" y="2" width="48" height="22"/><rect class="bd" width="48" height="22"/><rect class="hd" width="48" height="9"/><text class="hn" x="3" y="7">대응행동</text><use href="#bf"/></g>

<g id="lbl-earthquake">
<rect x="7" y="85" width="116" height="38" rx="8" fill="#8e44ad" fill-opacity=".6"/>
<rect x="17" y="91" width="96" height="24" fill="#760a82"/>
<text class="ov" x="18" y="110" textLength="94" lengthAdjust="spacingAndGlyphs">Earthquake</text>
</g>
<g id="lbl-damaged">
<rect x="161" y="85" width="119" height="56" rx="8" fill="#c0392b" fill-opacity=".55"/>
<rect x="184" y="92" width="90" height="44" fill="#980000"/>
<text class="ov" x="188" y="110" textLength="80" lengthAdjust="spacingAndGlyphs">Damaged</text>
<text class="ov" x="195" y="132" textLength="67" lengthAdjust="spacingAndGlyphs">Objects</text>
</g>
<g id="lbl-phenomenon">
<rect x="313" y="88" width="136" height="36" rx="8" fill="#4c9a3c" fill-opacity=".55"/>
<rect x="324" y="91" width="115" height="24" fill="#0c880c"/>
<text class="ov" x="325" y="112" textLength="112" lengthAdjust="spacingAndGlyphs">Phenomenon</text>
</g>
<g id="lbl-situation">
<rect x="475" y="85" width="100" height="58" rx="8" fill="#3a62b0" fill-opacity=".5"/>
<rect x="488" y="90" width="76" height="45" fill="#0000f0"/>
<text class="ov" x="491" y="110" textLength="69" lengthAdjust="spacingAndGlyphs" style="font-size:17px">Damage</text>
<text class="ov" x="489" y="132" textLength="73" lengthAdjust="spacingAndGlyphs" style="font-size:17px">Situation</text>
</g>
<g id="lbl-response">
<rect x="585" y="85" width="139" height="59" rx="8" fill="#223a88" fill-opacity=".55"/>
<rect x="600" y="90" width="103" height="45" fill="#00007c"/>
<text class="ov" x="612" y="111" textLength="78" lengthAdjust="spacingAndGlyphs">Response</text>
<text class="ov" x="602" y="132" textLength="99" lengthAdjust="spacingAndGlyphs" style="font-size:17px">Department</text>
</g>
<g id="lbl-manual">
<rect x="727" y="89" width="125" height="49" rx="8" fill="#8e44ad" fill-opacity=".5"/>
<rect x="746" y="91" width="96" height="24" fill="#7d0b84"/>
<rect x="739" y="115" width="110" height="22" fill="#7d0b84"/>
<text class="ov" x="747" y="112" textLength="94" lengthAdjust="spacingAndGlyphs">Earthquake</text>
<text class="ov" x="741" y="133" textLength="106" lengthAdjust="spacingAndGlyphs" style="font-size:16.5px">Field Manual</text>
</g>
<g id="lbl-scale">
<rect x="381" y="282" width="94" height="52" rx="8" fill="#8a7a20" fill-opacity=".6"/>
<rect x="390" y="287" width="74" height="44" fill="#867814"/>
<text class="ov" x="393" y="305" textLength="68" lengthAdjust="spacingAndGlyphs">Scale of</text>
<text class="ov" x="392" y="327" textLength="69" lengthAdjust="spacingAndGlyphs">Damage</text>
<path d="M444,308H461M393,330H461" stroke="#e02020" stroke-width="1" stroke-dasharray="2,1"/>
</g>

<g id="leaders">
<path class="ld" d="M374,10H366L247,58"/>
<path class="ld" d="M408,32L421,53"/>
<path class="ld" d="M461,18H478V52"/>
<path class="ld" d="M466,12L579,52"/>
<path class="ld" d="M676,18H697L736,53"/>
<path class="ld" d="M832,38L819,62H786"/>
<path class="ld" d="M494,418H504L514,353"/>
<path class="ld" d="M611,420H616L677,338"/>
<path class="ld" d="M711,456H721L766,415"/>
</g>
<g id="lbl-mission"><rect class="gl" x="374" y="5" width="87" height="27"/><text class="gt" x="385" y="26" textLength="67" lengthAdjust="spacingAndGlyphs">MISSION</text></g>
<g id="lbl-resources"><rect class="gl" x="569" y="5" width="106" height="28"/><text class="gt" x="578" y="26" textLength="88" lengthAdjust="spacingAndGlyphs">RESOURCES</text></g>
<g id="lbl-feedbacks"><rect class="gl" x="744" y="7" width="95" height="26"/><text class="gt" x="752" y="27" textLength="79" lengthAdjust="spacingAndGlyphs">FEEDBACKS</text></g>
<g id="lbl-cover"><rect class="gl" x="356" y="399" width="127" height="25"/><text class="gt" x="367" y="418" textLength="106" lengthAdjust="spacingAndGlyphs">COVER STORY</text></g>
<g id="lbl-role"><rect class="gl" x="535" y="401" width="69" height="24"/><text class="gt" x="550" y="420" textLength="39" lengthAdjust="spacingAndGlyphs">ROLE</text></g>
<g id="lbl-operation"><rect class="gl" x="594" y="437" width="108" height="25"/><text class="gt" x="603" y="456" textLength="90" lengthAdjust="spacingAndGlyphs">OPERATION</text></g>
</svg>
